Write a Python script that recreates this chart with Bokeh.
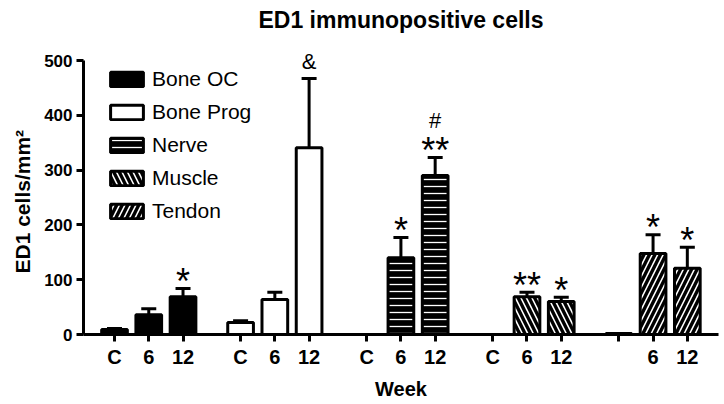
from bokeh.plotting import figure
from bokeh.models import (ColumnDataSource, Whisker, TeeHead, FixedTicker, Legend, LegendItem,
                          LabelSet, Label, Title)
from bokeh.core.properties import value
from bokeh.embed import file_html
from bokeh.resources import INLINE

# ---- data ----
tissues = ["Bone OC", "Bone Prog", "Nerve", "Muscle", "Tendon"]
weeks = ["C", "6", "12"]
week_labels = [["C", "6", "12"], ["C", "6", "12"], ["C", "6", "12"], ["C", "6", "12"], ["", "6", "12"]]
means = {
    "Bone OC":   [9, 36, 69],
    "Bone Prog": [22, 64, 341],
    "Nerve":     [0, 140, 290],
    "Muscle":    [0, 69, 60],
    "Tendon":    [2, 148, 121],
}
sems = {
    "Bone OC":   [2, 11, 15],
    "Bone Prog": [3, 13, 126],
    "Nerve":     [0, 37, 33],
    "Muscle":    [0, 8, 8],
    "Tendon":    [0, 34, 38],
}
# annotations: (tissue, week, text)
annotations = [
    ("Bone OC", "12", "*"),
    ("Bone Prog", "12", "&"),
    ("Nerve", "6", "*"),
    ("Nerve", "12", "**"),
    ("Nerve", "12", "#"),
    ("Muscle", "6", "**"),
    ("Muscle", "12", "*"),
    ("Tendon", "6", "*"),
    ("Tendon", "12", "*"),
]
y_ticks = [0, 100, 200, 300, 400, 500]
title_text = "ED1 immunopositive cells"
x_title = "Week"
y_title = "ED1 cells/mm²"

# ---- styles ----
GROUP_STEP = 3.68
styles = {
    "Bone OC":   dict(fill_color="black", hatch_pattern=None),
    "Bone Prog": dict(fill_color="white", hatch_pattern=None),
    "Nerve":     dict(fill_color="black", hatch_pattern="-", hatch_color="white", hatch_scale=7, hatch_weight=1.3),
    "Muscle":    dict(fill_color="black", hatch_pattern="\\", hatch_color="white", hatch_scale=11, hatch_weight=1.6),
    "Tendon":    dict(fill_color="black", hatch_pattern="/", hatch_color="white", hatch_scale=11, hatch_weight=1.6),
}

def xpos(gi, wi):
    return gi * GROUP_STEP + wi

FONT = "Liberation Sans"
FRAME_H = 334          # frame spans the full height above the x axis
PX_PER_UNIT = 274 / 500

p = figure(width=720, height=404, output_backend="svg", toolbar_location=None,
           x_range=(-0.905, 17.63), y_range=(0, FRAME_H / PX_PER_UNIT),
           min_border_left=83, min_border_right=2, min_border_top=0, min_border_bottom=70)
p.outline_line_color = None
p.xgrid.visible = False
p.ygrid.visible = False
p.background_fill_color = "white"

# title drawn inside the (tall) frame, centred horizontally
p.add_layout(Label(x=635 / 2, y=FRAME_H - 19, x_units="screen", y_units="screen",
                   text=title_text, text_font=FONT, text_font_size="23px",
                   text_font_style="bold", text_align="center",
                   text_baseline="alphabetic", text_color="black"))

legend_items = []
for gi, t in enumerate(tissues):
    xs = [xpos(gi, wi) for wi in range(len(weeks))]
    src = ColumnDataSource(dict(x=xs, top=means[t]))
    st = dict(styles[t])
    hp = st.pop("hatch_pattern")
    kw = dict(x="x", top="top", width=0.75, bottom=0, source=src,
              line_color="black", line_width=3, **st)
    if hp:
        kw["hatch_pattern"] = hp
    r = p.vbar(**kw)
    legend_items.append(LegendItem(label=t, renderers=[r]))

# error bars (upper only)
ex, elo, eup = [], [], []
for gi, t in enumerate(tissues):
    for wi in range(len(weeks)):
        if sems[t][wi] > 0:
            ex.append(xpos(gi, wi))
            elo.append(means[t][wi])
            eup.append(means[t][wi] + sems[t][wi])
esrc = ColumnDataSource(dict(x=ex, lower=elo, upper=eup))
p.add_layout(Whisker(base="x", lower="lower", upper="upper", source=esrc,
                     line_color="black", line_width=3,
                     upper_head=TeeHead(size=15, line_width=3, line_color="black"),
                     lower_head=None))

# annotations (pixel offsets above the error bar top)
STAR_FS = 36
SYM_FS = 22
star_x, star_y, star_t, star_off = [], [], [], []
sym_x, sym_y, sym_t, sym_off = [], [], [], []
for (t, w, txt) in annotations:
    gi = tissues.index(t); wi = weeks.index(w)
    yv = means[t][wi] + sems[t][wi]
    if txt.startswith("*"):
        star_x.append(xpos(gi, wi)); star_y.append(yv); star_t.append(txt)
        star_off.append(15 - 0.79 * STAR_FS)
    else:
        sym_x.append(xpos(gi, wi)); sym_y.append(yv); sym_t.append(txt)
        sym_off.append((17 if txt == "&" else 36) - 12)
ssrc = ColumnDataSource(dict(x=star_x, y=star_y, text=star_t, off=star_off))
ysrc = ColumnDataSource(dict(x=sym_x, y=sym_y, text=sym_t, off=sym_off))
p.add_layout(LabelSet(x="x", y="y", text="text", y_offset="off", source=ssrc,
                      text_font=value(FONT), text_font_size=f"{STAR_FS}px",
                      text_align="center", text_baseline="bottom", text_color="black"))
p.add_layout(LabelSet(x="x", y="y", text="text", y_offset="off", source=ysrc,
                      text_font=value(FONT), text_font_size=f"{SYM_FS}px",
                      text_align="center", text_baseline="bottom", text_color="black"))

# axes
xticks, xlabels = [], {}
for gi, t in enumerate(tissues):
    for wi in range(len(weeks)):
        xv = xpos(gi, wi)
        xticks.append(xv)
        xlabels[xv] = week_labels[gi][wi]
p.xaxis.ticker = FixedTicker(ticks=xticks)
p.xaxis.major_label_overrides = xlabels
p.yaxis.ticker = FixedTicker(ticks=y_ticks)
p.yaxis.bounds = (y_ticks[0], y_ticks[-1])
for ax in (p.xaxis, p.yaxis):
    ax.axis_line_width = 3
    ax.axis_line_color = "black"
    ax.major_tick_line_color = "black"
    ax.major_tick_line_width = 3
    ax.major_tick_out = 7
    ax.major_tick_in = 0
    ax.minor_tick_line_color = None
    ax.major_label_text_font = FONT
    ax.major_label_text_font_style = "bold"
    ax.axis_label_text_font = FONT
    ax.axis_label_text_font_style = "bold"
    ax.major_label_text_color = "black"
    ax.axis_label_text_color = "black"
p.xaxis.axis_label_text_font_size = "20px"
p.xaxis.major_label_text_font_size = "20px"
p.yaxis.major_label_text_font_size = "17px"
p.xaxis.axis_label = x_title
p.xaxis.axis_label_standoff = 7
p.xaxis.major_label_standoff = 4
p.yaxis.major_label_standoff = 4

# y-axis title: a side title so it can be aligned with the 0-500 axis span
p.add_layout(Title(text=y_title, align="left", offset=61, standoff=16,
                   text_font=FONT, text_font_size="21px", text_font_style="bold",
                   text_color="black"), "left")

legend = Legend(items=legend_items, location=(23, 111), padding=0, margin=0,
                border_line_color=None, background_fill_alpha=0,
                glyph_width=41, glyph_height=18, label_height=21, spacing=9,
                label_standoff=5, label_text_font=FONT, label_text_font_size="21px",
                label_text_color="black")
p.add_layout(legend, "center")

open("out.html", "w").write(file_html(p, INLINE))
